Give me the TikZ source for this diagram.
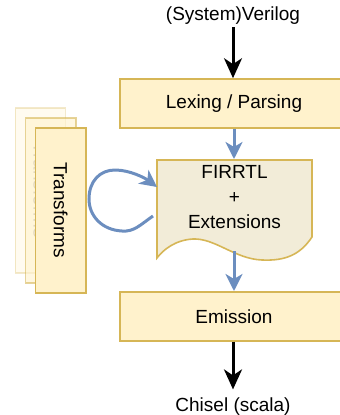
\documentclass[tikz,border=0pt]{standalone}
\usepackage{fontspec}
\setmainfont{Liberation Sans}
\usetikzlibrary{arrows.meta}
\definecolor{yfill}{HTML}{FFF2CC}
\definecolor{ydraw}{HTML}{D6B656}
\definecolor{docfill}{HTML}{F2ECD8}
\definecolor{blueline}{HTML}{6C8EBF}
\begin{document}
\begin{tikzpicture}[x=1bp,y=-1bp,
  font=\fontsize{19bp}{25bp}\selectfont,
  box/.style={draw=ydraw, fill=yfill, line width=1.6bp, minimum width=228bp, minimum height=49bp, inner sep=0pt},
  sheet/.style={draw=ydraw, fill=yfill, line width=1.6bp, minimum width=165bp, minimum height=50bp, inner sep=0pt, rotate=-90},
  blk/.style={line width=3bp, -{Stealth[length=20bp,width=18bp,inset=6bp]}},
  blu/.style={draw=blueline, line width=3bp, -{Stealth[length=17bp,width=17bp,inset=5bp]}}]
\useasboundingbox (0,0) rectangle (340,415);

% Transforms stack
\node[sheet, opacity=0.3] (s3) at (40.4,190.3) {Transforms};
\node[sheet, opacity=0.6] (s2) at (50.7,200.5) {Transforms};
\node[sheet] (s1) at (60.7,210.2) {Transforms};

% main column
\node[anchor=base] (src) at (233,20) {(System)Verilog};
\node[box] (lex) at (234,103.5) {Lexing / Parsing};
\draw[draw=ydraw, fill=docfill, line width=1.6bp]
  (157,160) -- (312,160) -- (312,237)
  .. controls (300,255) and (285,261) .. (262,260)
  .. controls (235,259) and (215,238) .. (193,239)
  .. controls (175,240) and (163,250) .. (157,258) -- cycle;
\node[align=center, inner sep=0pt] (doc) at (234.5,197) {FIRRTL\\+\\Extensions};
\coordinate (doctop) at (234,159);
\coordinate (docbot) at (234,251);
\node[box] (emit) at (234,316.3) {Emission};
\node[anchor=base] (dst) at (233,411.7) {Chisel (scala)};

% connectors
\draw[blk] (src.south) -- (src.south |- lex.north);
\draw[blu] (lex.south) -- (doctop);
\draw[blu] (docbot) -- (emit.north);
\draw[blk] (emit.south -| dst.north) -- ([yshift=5bp]dst.north);

% loop
\coordinate (loopstart) at (153,216);
\coordinate (looptip) at (157,187);
\draw[blu] (loopstart) .. controls (140,225) and (134,232) .. (122,231)
  .. controls (102,230) and (89,216) .. (89,199)
  .. controls (89,181) and (100,170) .. (115,170)
  .. controls (130,170) and (145,178) .. (looptip);
\end{tikzpicture}
\end{document}
